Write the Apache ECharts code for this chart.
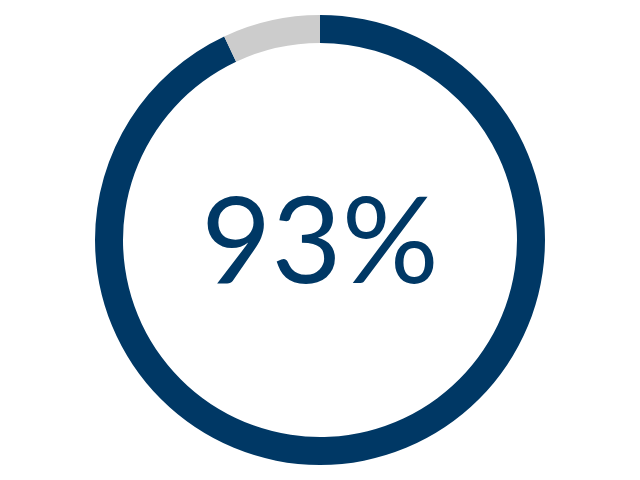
<!DOCTYPE html>
<html><head><meta charset="utf-8">
<script src="https://cdn.jsdelivr.net/npm/echarts@6/dist/echarts.min.js"></script>
<style>html,body{margin:0;padding:0;background:#fff}#c{width:640px;height:480px}</style>
</head><body><div id="c"></div>
<script>
const categories = ['Yes', 'Other'];
const values = [93, 7];
const centerLabel = '93%';
const colors = ['#003865', '#cccccc'];

const chart = echarts.init(document.getElementById('c'), null, {renderer: 'canvas'});
chart.setOption({
  animation: false,
  series: [{
    type: 'pie',
    center: ['50%', '50%'],
    radius: [197, 225],
    startAngle: 90,
    clockwise: true,
    silent: true,
    label: {show: false},
    labelLine: {show: false},
    itemStyle: {borderWidth: 0},
    data: categories.map((c, i) => ({name: c, value: values[i], itemStyle: {color: colors[i]}}))
  }],
  graphic: [{
    type: 'text',
    x: 320,
    y: 244,
    style: {
      text: centerLabel,
      fill: '#003865',
      font: 'normal 121px Lato',
      align: 'center',
      verticalAlign: 'middle'
    }
  }]
});
</script></body></html>
